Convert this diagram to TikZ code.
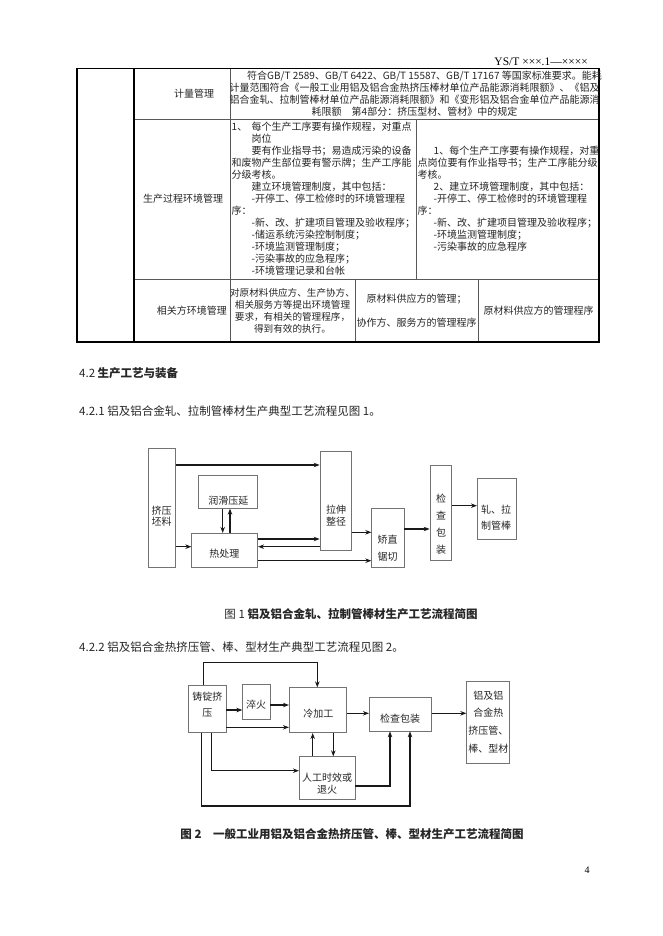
\documentclass[tikz,border=0pt]{standalone}
\usepackage{fontspec}
\setmainfont{Noto Sans CJK SC}
\newfontfamily\hdrfont{Liberation Serif}
\usetikzlibrary{arrows.meta}
\begin{document}
\begin{tikzpicture}[x=1pt,y=-1pt,
  tbl/.style={font=\fontsize{10}{12}\selectfont, inner sep=0pt, text=black!85},
  frame/.style={draw=black, line width=1.2pt},
  grid/.style={draw=black!65, line width=0.8pt},
  fbox/.style={draw=black!55, line width=0.7pt, inner sep=0pt},
  ftext/.style={inner sep=0pt, text=black!85, align=center},
  arr/.style={draw=black!90, line width=1.2pt, -{Stealth[length=6pt,width=4.5pt]}},
  body/.style={font=\fontsize{11.5}{13}\selectfont, inner sep=0pt, text=black!85, anchor=west},
]
\fill[white] (0,0) rectangle (662,936);
\useasboundingbox (0,0) rectangle (662,936);

% header and page number
\node[font=\hdrfont\fontsize{11.5}{12}\selectfont, anchor=east, inner sep=0pt] (hdr) at (588,62) {YS/T ×××.1—××××};
\node[font=\hdrfont\fontsize{10}{12}\selectfont, inner sep=0pt] (pg) at (587,870) {4};

% ---------- table ----------
\draw[grid] (134,119.5) -- (599,119.5);
\draw[grid] (134,279) -- (599,279);
\draw[grid] (416.5,119.5) -- (416.5,279);
\draw[grid] (355,279) -- (355,342);
\draw[grid] (478,279) -- (478,342);
\draw[grid] (230.5,68.5) -- (230.5,342);
\draw[frame] (134,68.5) -- (134,342);
\draw[frame] (77,68.5) rectangle (599,342);

\node[tbl] (c11) at (194,94) {计量管理};
\node[tbl, align=center] (c12) at (414.5,94) {\hspace*{2em}符合GB/T 2589、GB/T 6422、GB/T 15587、GB/T 17167 等国家标准要求。能耗\\
计量范围符合《一般工业用铝及铝合金热挤压棒材单位产品能源消耗限额》、《铝及\\
铝合金轧、拉制管棒材单位产品能源消耗限额》和《变形铝及铝合金单位产品能源消\\
耗限额\quad 第4部分：挤压型材、管材》中的规定};

\node[tbl] (c21) at (183,199) {生产过程环境管理};
\node[tbl, align=left, anchor=west] (c22) at (231.5,199) {\makebox[2em][l]{1、}每个生产工序要有操作规程，对重点\\
\hspace*{2em}岗位\\
\hspace*{2em}要有作业指导书；易造成污染的设备\\
和废物产生部位要有警示牌；生产工序能\\
分级考核。\\
\hspace*{2em}建立环境管理制度，其中包括：\\
\hspace*{2em}-开停工、停工检修时的环境管理程\\
序：\\
\hspace*{2em}-新、改、扩建项目管理及验收程序；\\
\hspace*{2em}-储运系统污染控制制度；\\
\hspace*{2em}-环境监测管理制度；\\
\hspace*{2em}-污染事故的应急程序；\\
\hspace*{2em}-环境管理记录和台帐};
\node[tbl, align=left, anchor=west] (c23) at (417.5,199) {\hspace*{1.6em}1、每个生产工序要有操作规程，对重\\
点岗位要有作业指导书；生产工序能分级\\
考核。\\
\hspace*{1.6em}2、建立环境管理制度，其中包括：\\
\hspace*{1.6em}-开停工、停工检修时的环境管理程\\
序：\\
\hspace*{1.6em}-新、改、扩建项目管理及验收程序；\\
\hspace*{1.6em}-环境监测管理制度；\\
\hspace*{1.6em}-污染事故的应急程序};

\node[tbl, anchor=east] (c31) at (227,310.5) {相关方环境管理};
\node[tbl, align=center, font=\fontsize{9.6}{12}\selectfont] (c32) at (292.5,310.5) {对原材料供应方、生产协方、\\相关服务方等提出环境管理\\要求，有相关的管理程序，\\得到有效的执行。};
\node[tbl, align=center] (c33) at (416.5,310.5) {原材料供应方的管理；\\[12pt]协作方、服务方的管理程序};
\node[tbl] (c34) at (538.5,310.5) {原材料供应方的管理程序};

% ---------- text ----------
\node[body] (h42) at (79,373) {4.2 {\bfseries 生产工艺与装备}};
\node[body] (p421) at (79,411) {4.2.1 铝及铝合金轧、拉制管棒材生产典型工艺流程见图 1。};
\node[body, anchor=center] (cap1) at (351,614) {图 1 {\bfseries 铝及铝合金轧、拉制管棒材生产工艺流程简图}};
\node[body] (p422) at (79,647) {4.2.2 铝及铝合金热挤压管、棒、型材生产典型工艺流程见图 2。};
\node[body, anchor=center] (cap2) at (352,834) {\bfseries 图 2\quad 一般工业用铝及铝合金热挤压管、棒、型材生产工艺流程简图};

% ---------- figure 1 ----------
\node[fbox, minimum width=27.4pt, minimum height=119pt] (A) at (162,507.8) {};
\node[fbox, minimum width=59.4pt, minimum height=33.3pt] (B) at (228,491.65) {};
\node[fbox, minimum width=66pt, minimum height=34pt] (C) at (224.7,550.3) {};
\node[fbox, minimum width=31.7pt, minimum height=99pt] (D) at (335.85,501.2) {};
\node[fbox, minimum width=32.3pt, minimum height=59pt] (E) at (387.85,537.8) {};
\node[fbox, minimum width=21.7pt, minimum height=95.7pt] (F) at (440.85,512.85) {};
\node[fbox, minimum width=38.7pt, minimum height=60.7pt] (G) at (496.65,508.65) {};

\node[ftext, font=\fontsize{10}{11}\selectfont] (At) at (161.7,516.2) {挤压\\坯料};
\node[ftext, font=\fontsize{10}{11}\selectfont] (Bt) at (228.3,501) {润滑压延};
\node[ftext, font=\fontsize{10}{11}\selectfont] (Ct) at (224.3,553.3) {热处理};
\node[ftext, font=\fontsize{10}{12}\selectfont] (Dt) at (336,515.9) {拉伸\\整径};
\node[ftext, font=\fontsize{10}{17.4}\selectfont] (Et) at (387.7,548) {矫直\\锯切};
\node[ftext, font=\fontsize{10}{17}\selectfont] (Ft) at (441,524.5) {检\\查\\包\\装};
\node[ftext, font=\fontsize{10}{16}\selectfont] (Gt) at (496,518) {轧、拉\\制管棒};

\draw[arr] (A.east |- 0,465) -- (D.west |- 0,465);
\draw[arr] (A.east |- 0,546.7) -- (C.west |- 0,546.7);
\draw[arr] (B.south -| 222.7,0) -- (C.north -| 222.7,0);
\draw[arr] (C.north -| 230,0) -- (B.south -| 230,0);
\draw[arr] (C.east |- 0,539) -- (D.west |- 0,539);
\draw[arr] (D.west |- 0,546.7) -- (C.east |- 0,546.7);
\draw[arr] (D.east |- 0,532.3) -- (E.west |- 0,532.3);
\draw[arr] (C.east |- 0,560.7) -- (E.west |- 0,560.7);
\draw[arr] (E.east |- 0,529) -- (F.west |- 0,529);
\draw[arr] (F.east |- 0,505.7) -- (G.west |- 0,505.7);

% ---------- figure 2 ----------
\node[fbox, minimum width=37.7pt, minimum height=47.7pt] (P) at (207.15,708.85) {};
\node[fbox, minimum width=27.3pt, minimum height=35pt] (Q) at (256.35,701.8) {};
\node[fbox, minimum width=57.4pt, minimum height=45pt] (R) at (318,710.2) {};
\node[fbox, minimum width=62.4pt, minimum height=33.3pt] (S) at (400.5,714.35) {};
\node[fbox, minimum width=42.6pt, minimum height=81.6pt] (T) at (488,722.5) {};
\node[fbox, minimum width=55.7pt, minimum height=42.6pt] (U) at (327.15,778) {};

\node[ftext, font=\fontsize{10}{16}\selectfont] (Pt) at (207.3,704.7) {铸锭挤\\压};
\node[ftext, font=\fontsize{10}{11}\selectfont] (Qt) at (256,705) {淬火};
\node[ftext, font=\fontsize{10}{11}\selectfont] (Rt) at (318.3,713.3) {冷加工};
\node[ftext, font=\fontsize{10}{11}\selectfont] (St) at (400,718.3) {检查包装};
\node[ftext, font=\fontsize{10}{17.7}\selectfont] (Tt) at (488.3,721.8) {铝及铝\\合金热\\挤压管、\\棒、型材};
\node[ftext, font=\fontsize{10}{12.7}\selectfont] (Ut) at (327,783.7) {人工时效或\\退火};

\coordinate (k1) at (203.3,662.7);
\coordinate (k2) at (317.3,662.7);
\draw[arr] (P.north -| k1) -- (k1) -- (k2) -- (R.north -| k2);
\draw[arr] (P.east |- 0,710) -- (Q.west |- 0,710);
\draw[arr] (Q.east |- 0,705) -- (R.west |- 0,705);
\draw[arr] (P.east |- 0,727.3) -- (R.west |- 0,727.3);
\draw[arr] (R.east |- 0,713.3) -- (S.west |- 0,713.3);
\draw[arr] (S.east |- 0,713.3) -- (T.west |- 0,713.3);
\draw[arr] (U.north -| 312.7,0) -- (R.south -| 312.7,0);
\draw[arr] (R.south -| 333.3,0) -- (U.north -| 333.3,0);
\coordinate (k3) at (211.7,770.7);
\draw[arr] (P.south -| k3) -- (k3) -- (U.west |- k3);
\coordinate (k4) at (390,786);
\draw[arr] (U.east |- k4) -- (k4) -- (S.south -| k4);
\coordinate (k5) at (201.7,806);
\coordinate (k6) at (410,806);
\draw[arr] (P.south -| k5) -- (k5) -- (k6) -- (S.south -| k6);
\end{tikzpicture}
\end{document}
